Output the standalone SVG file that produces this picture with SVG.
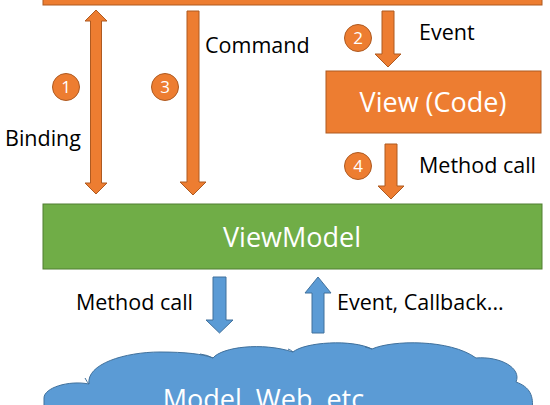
<svg xmlns="http://www.w3.org/2000/svg" width="550" height="405" viewBox="0 0 550 405">
<style>
.or{fill:#ED7D31;stroke:#AE5A21;stroke-width:1}
.gr{fill:#70AD47;stroke:#507E32;stroke-width:1}
.bl{fill:#5B9BD5;stroke:#41719C;stroke-width:1}
.lbl{font-family:"Open Sans","Liberation Sans",sans-serif;font-size:21.5px;fill:#000}
.wl{font-family:"Open Sans","Liberation Sans",sans-serif;font-size:27px;fill:#fff;text-anchor:middle}
.num{font-family:"Open Sans","Liberation Sans",sans-serif;font-size:17px;fill:#fff;text-anchor:middle}
.crease{fill:none;stroke:#41719C;stroke-width:1}
</style>
<rect width="550" height="405" fill="#fff"/>
<g id="view">
<rect class="or" x="43" y="-10" width="499" height="15"/>
</g>
<g id="view-code">
<rect class="or" x="326" y="71" width="215" height="62"/>
<text class="wl" x="433" y="112">View (Code)</text>
</g>
<g id="viewmodel">
<rect class="gr" x="43" y="204" width="499" height="65"/>
<text class="wl" x="292" y="247">ViewModel</text>
</g>
<g id="model">
<path class="bl" d="M44,410 L44,398 C44,388 68,380 89,384 C86,364 125,352 160,352 C185,352 203,354 213,358 C222,347 262,342 293,352 C305,342 352,339 372,349 C392,340 450,339 476,358 C500,356 522,368 516,382 C530,387 534,396 532,410 Z"/>
<path class="crease" d="M85,378 Q87,382 89,384"/>
<path class="crease" d="M200,354 Q208,355 213,358"/>
<path class="crease" d="M288,349 Q291,350 293,352"/>
<path class="crease" d="M365,347 Q369,348 372,349"/>
<text class="wl" x="267" y="409">Model, Web, etc.</text>
</g>
<g id="connectors">
<polygon class="or" points="96,10 107,21 101.5,21 101.5,183 107,183 96,194 85,183 90.5,183 90.5,21 85,21"/>
<polygon class="or" points="187,11 199,11 199,182 206,182 193,195 180,182 187,182"/>
<polygon class="or" points="382,11 394,11 394,54 401,54 388,67 375,54 382,54"/>
<polygon class="or" points="385,144 397,144 397,186 404,186 391,199 378,186 385,186"/>
<polygon class="bl" points="213,277 226,277 226,320 233,320 219.5,333 206,320 213,320"/>
<polygon class="bl" points="312,333 324,333 324,293 331,293 318,277 305,293 312,293"/>
</g>
<g id="badges">
<circle class="or" cx="66" cy="87" r="13.5"/><text class="num" x="66" y="93">1</text>
<circle class="or" cx="358" cy="38" r="13.5"/><text class="num" x="358" y="44">2</text>
<circle class="or" cx="165" cy="87" r="13.5"/><text class="num" x="165" y="93">3</text>
<circle class="or" cx="358" cy="166" r="13.5"/><text class="num" x="358" y="172">4</text>
</g>
<g id="labels">
<text class="lbl" x="5" y="146">Binding</text>
<text class="lbl" x="205" y="53">Command</text>
<text class="lbl" x="419" y="40">Event</text>
<text class="lbl" x="419" y="173">Method call</text>
<text class="lbl" x="193" y="310" text-anchor="end">Method call</text>
<text class="lbl" x="337" y="310">Event, Callback...</text>
</g>
</svg>
